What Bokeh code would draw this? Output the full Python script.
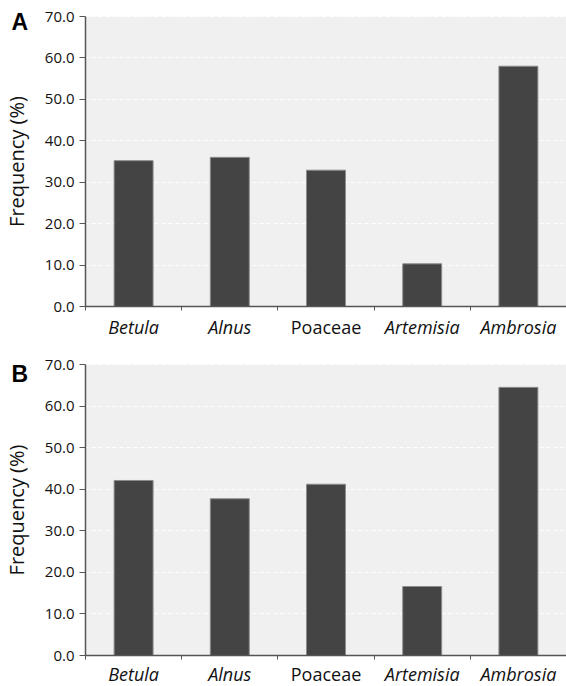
import numpy as np
from bokeh.plotting import figure
from bokeh.core.properties import value
from bokeh.models import (Range1d, FixedTicker, NumeralTickFormatter, ColumnDataSource,
                          Label, CustomJSTickFormatter, BoxAnnotation)
from bokeh.layouts import column
from bokeh.embed import file_html
from bokeh.resources import INLINE

taxa = ["Betula", "Alnus", "Poaceae", "Artemisia", "Ambrosia"]
taxa_italic = [True, True, False, True, True]
freq_a = [35.2, 36.0, 32.9, 10.3, 58.0]
freq_b = [42.1, 37.7, 41.2, 16.6, 64.5]
y_ticks = [0, 10, 20, 30, 40, 50, 60, 70]
y_max = 70

FONT = "Open Sans"
W = 566
LEFT_PX = 85  # pixel column of the value axis


def panel(letter, values, height, top_px, zero_px, letter_px, label_px):
    n = len(taxa)
    xs_per_px = n / (W - LEFT_PX)
    ys_per_px = y_max / (zero_px - top_px)
    x_range = Range1d(-LEFT_PX * xs_per_px, n)
    y_range = Range1d(-(height - zero_px) * ys_per_px, y_max + top_px * ys_per_px)

    xs = np.arange(n) + 0.5
    src = ColumnDataSource(dict(x=xs, top=values, y0=[0] * n,
                                it=[t if i else "" for t, i in zip(taxa, taxa_italic)],
                                rm=[t if not i else "" for t, i in zip(taxa, taxa_italic)]))
    p = figure(width=W, height=height, x_range=x_range, y_range=y_range,
               output_backend="svg", toolbar_location=None,
               min_border=0, min_border_left=0, min_border_right=0,
               min_border_top=0, min_border_bottom=0)
    p.background_fill_color = "white"
    p.border_fill_color = "white"
    p.outline_line_color = None

    p.add_layout(BoxAnnotation(left=0, right=n, bottom=0, top=y_max,
                               fill_color="#f0f0f0", fill_alpha=1.0,
                               line_color=None, level="image"))

    p.vbar(x="x", top="top", bottom=0, width=0.405, source=src,
           fill_color="#444444", line_color="#8c8c8c", line_width=1)

    yax = p.yaxis[0]
    yax.fixed_location = 0
    yax.bounds = (0, y_max)
    yax.ticker = FixedTicker(ticks=y_ticks)
    yax.formatter = NumeralTickFormatter(format="0.0")
    yax.axis_label = "Frequency (%)"
    yax.axis_label_text_font = FONT
    yax.axis_label_text_font_style = "normal"
    yax.axis_label_text_font_size = "20px"
    yax.axis_label_text_color = "#111111"
    yax.axis_label_standoff = 12
    yax.major_label_text_font = FONT
    yax.major_label_text_font_size = "15px"
    yax.major_label_text_color = "#111111"
    yax.major_label_standoff = 5
    yax.major_tick_in = 0
    yax.major_tick_out = 6
    yax.minor_tick_in = 0
    yax.minor_tick_out = 0
    yax.axis_line_color = "#555555"
    yax.axis_line_width = 1.5
    yax.major_tick_line_color = "#555555"

    xax = p.xaxis[0]
    xax.fixed_location = 0
    xax.bounds = (0, n)
    xax.ticker = FixedTicker(ticks=list(range(n + 1)))
    xax.formatter = CustomJSTickFormatter(code="return ''")
    xax.major_tick_in = 0
    xax.major_tick_out = 4
    xax.minor_tick_in = 0
    xax.minor_tick_out = 0
    xax.axis_line_color = "#555555"
    xax.axis_line_width = 1.5
    xax.major_tick_line_color = "#555555"

    p.xgrid.grid_line_color = None
    p.ygrid.ticker = FixedTicker(ticks=y_ticks)
    p.ygrid.bounds = (0, n)
    p.ygrid.grid_line_color = "white"
    p.ygrid.grid_line_dash = "4 3"
    p.ygrid.grid_line_width = 1

    for col, style in (("it", "italic"), ("rm", "normal")):
        p.text(x="x", y="y0", text=col, source=src, text_font_style=value(style),
               text_font=value(FONT), text_font_size=value("18px"), text_color="#111111",
               text_align="center", text_baseline="alphabetic", y_offset=label_px)

    p.add_layout(Label(x=11, y=height - letter_px, x_units="screen", y_units="screen",
                       text=letter, text_baseline="middle", text_align="left",
                       text_font="Liberation Sans", text_font_style="bold",
                       text_font_size="23px", text_color="black"))
    return p


pa = panel("A", freq_a, 342, 16, 306, 21, 20)
pb = panel("B", freq_b, 344, 22, 313, 31, 18)
layout = column(pa, pb, spacing=0)

open("out.html", "w").write(file_html(layout, INLINE))
